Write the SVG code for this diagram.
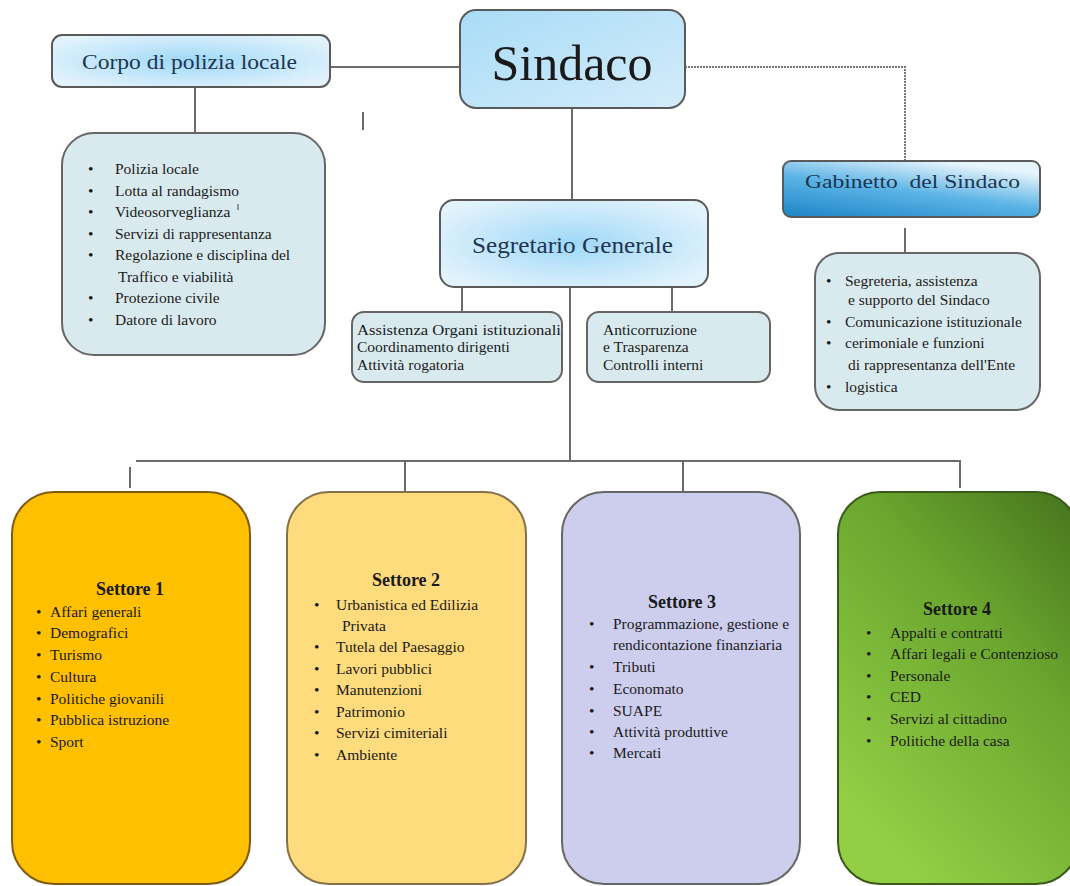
<svg xmlns="http://www.w3.org/2000/svg" width="1070" height="886" viewBox="0 0 1070 886">
<defs>
<radialGradient id="gBlue" cx="50%" cy="50%" r="60%">
<stop offset="0" stop-color="#9fd8f8"/>
<stop offset="1" stop-color="#e3f3fc"/>
</radialGradient>
<linearGradient id="gSind" x1="0" y1="0" x2="1" y2="1">
<stop offset="0" stop-color="#a9dcf7"/>
<stop offset="1" stop-color="#d3ecfa"/>
</linearGradient>
<linearGradient id="gGab" x1="0" y1="1" x2="0.6" y2="0">
<stop offset="0" stop-color="#1c84c6"/>
<stop offset="0.55" stop-color="#5cb4e6"/>
<stop offset="1" stop-color="#e6f4fb"/>
</linearGradient>
<linearGradient id="gGreen" x1="1" y1="0" x2="0.35" y2="1">
<stop offset="0" stop-color="#45731d"/>
<stop offset="0.4" stop-color="#6aa52e"/>
<stop offset="1" stop-color="#92cf45"/>
</linearGradient>
<style>
.t{font-family:"Liberation Serif","Times New Roman",serif;fill:#1a1a1a}
.li{font-size:15.5px}
.hd{font-size:18px;font-weight:bold;text-anchor:middle}
.ttl{fill:#1d3550}
.ln{stroke:#6b6b6b;stroke-width:2;fill:none}
.box{stroke:#5a5a5a;stroke-width:2}
.list{fill:#d9eaee;stroke:#666;stroke-width:2}
</style>
</defs>
<rect width="1070" height="886" fill="#ffffff"/>

<g id="connectors">
<line class="ln" x1="330" y1="67" x2="460" y2="67"/>
<polyline points="685,67 905,67 905,160" fill="none" stroke="#777" stroke-width="2" stroke-dasharray="2,1"/>
<line class="ln" x1="195" y1="87" x2="195" y2="133"/>
<line class="ln" x1="363" y1="112" x2="363" y2="130"/>
<line class="ln" x1="572" y1="108" x2="572" y2="200"/>
<line class="ln" x1="462" y1="287" x2="462" y2="312"/>
<line class="ln" x1="672" y1="287" x2="672" y2="312"/>
<line class="ln" x1="570" y1="287" x2="570" y2="461"/>
<line class="ln" x1="905" y1="228" x2="905" y2="253"/>
<polyline class="ln" points="136,461 960,461 960,488"/>
<line class="ln" x1="130" y1="467" x2="130" y2="488"/>
<line class="ln" x1="405" y1="461" x2="405" y2="492"/>
<line class="ln" x1="683" y1="461" x2="683" y2="492"/>
</g>

<g id="sindaco">
<rect class="box" x="460" y="10" width="225" height="98" rx="16" fill="url(#gSind)"/>
<text class="t" x="572" y="80" font-size="50" text-anchor="middle" fill="#222">Sindaco</text>
</g>

<g id="corpo-polizia">
<rect class="box" x="52" y="35" width="278" height="52" rx="10" fill="url(#gBlue)"/>
<text class="t ttl" x="82" y="69" font-size="20" textLength="215" lengthAdjust="spacingAndGlyphs">Corpo di polizia locale</text>
</g>

<g id="polizia-funzioni">
<rect class="list" x="62" y="133" width="263" height="222" rx="32"/>
<g class="t li">
<text x="88" y="174">•</text><text x="115" y="174">Polizia locale</text>
<text x="88" y="196">•</text><text x="115" y="196">Lotta al randagismo</text>
<text x="88" y="217">•</text><text x="115" y="217">Videosorveglianza</text>
<text x="88" y="239">•</text><text x="115" y="239">Servizi di rappresentanza</text>
<text x="88" y="260">•</text><text x="115" y="260">Regolazione e disciplina del</text>
<text x="118" y="282">Traffico e viabilità</text>
<text x="88" y="303">•</text><text x="115" y="303">Protezione civile</text>
<text x="88" y="325">•</text><text x="115" y="325">Datore di lavoro</text>
</g>
<line x1="238" y1="204" x2="238" y2="210" stroke="#444" stroke-width="1"/>
</g>

<g id="segretario">
<rect class="box" x="440" y="200" width="268" height="87" rx="14" fill="url(#gBlue)"/>
<text class="t ttl" x="472" y="253" font-size="23" textLength="201" lengthAdjust="spacingAndGlyphs">Segretario Generale</text>
</g>

<g id="segretario-assistenza">
<rect class="list" x="352" y="312" width="210" height="70" rx="12"/>
<g class="t li">
<text x="357" y="335" textLength="204" lengthAdjust="spacingAndGlyphs">Assistenza Organi istituzionali</text>
<text x="357" y="352">Coordinamento dirigenti</text>
<text x="357" y="370">Attività rogatoria</text>
</g>
</g>

<g id="segretario-anticorruzione">
<rect class="list" x="587" y="312" width="183" height="70" rx="12"/>
<g class="t li">
<text x="603" y="335">Anticorruzione</text>
<text x="603" y="352">e Trasparenza</text>
<text x="603" y="370">Controlli interni</text>
</g>
</g>

<g id="gabinetto">
<rect class="box" x="783" y="161" width="257" height="56" rx="8" fill="url(#gGab)"/>
<text class="t ttl" x="805" y="188" font-size="19" textLength="215" lengthAdjust="spacingAndGlyphs" xml:space="preserve">Gabinetto  del Sindaco</text>
</g>

<g id="gabinetto-funzioni">
<rect class="list" x="815" y="253" width="225" height="157" rx="24"/>
<g class="t li">
<text x="826" y="286">•</text><text x="845" y="286">Segreteria, assistenza</text>
<text x="848" y="305">e supporto del Sindaco</text>
<text x="826" y="327">•</text><text x="845" y="327">Comunicazione istituzionale</text>
<text x="826" y="348">•</text><text x="845" y="348">cerimoniale e funzioni</text>
<text x="848" y="370">di rappresentanza dell'Ente</text>
<text x="826" y="392">•</text><text x="845" y="392">logistica</text>
</g>
</g>

<g id="settore1">
<rect x="12" y="492" width="238" height="392" rx="42" fill="#ffc000" stroke="#7d5c12" stroke-width="2"/>
<text class="t hd" x="130" y="595">Settore 1</text>
<g class="t li">
<text x="36" y="617">•</text><text x="50" y="617">Affari generali</text>
<text x="36" y="638">•</text><text x="50" y="638">Demografici</text>
<text x="36" y="660">•</text><text x="50" y="660">Turismo</text>
<text x="36" y="682">•</text><text x="50" y="682">Cultura</text>
<text x="36" y="704">•</text><text x="50" y="704">Politiche giovanili</text>
<text x="36" y="725">•</text><text x="50" y="725">Pubblica istruzione</text>
<text x="36" y="747">•</text><text x="50" y="747">Sport</text>
</g>
</g>

<g id="settore2">
<rect x="287" y="492" width="239" height="392" rx="42" fill="#fedb7c" stroke="#85704a" stroke-width="2"/>
<text class="t hd" x="406" y="586">Settore 2</text>
<g class="t li">
<text x="314" y="610">•</text><text x="336" y="610">Urbanistica ed Edilizia</text>
<text x="342" y="631">Privata</text>
<text x="314" y="652">•</text><text x="336" y="652">Tutela del Paesaggio</text>
<text x="314" y="674">•</text><text x="336" y="674">Lavori pubblici</text>
<text x="314" y="695">•</text><text x="336" y="695">Manutenzioni</text>
<text x="314" y="717">•</text><text x="336" y="717">Patrimonio</text>
<text x="314" y="738">•</text><text x="336" y="738">Servizi cimiteriali</text>
<text x="314" y="760">•</text><text x="336" y="760">Ambiente</text>
</g>
</g>

<g id="settore3">
<rect x="562" y="492" width="238" height="392" rx="42" fill="#cdcdee" stroke="#666" stroke-width="2"/>
<text class="t hd" x="682" y="608">Settore 3</text>
<g class="t li">
<text x="589" y="629">•</text><text x="613" y="629">Programmazione, gestione e</text>
<text x="613" y="650">rendicontazione finanziaria</text>
<text x="589" y="672">•</text><text x="613" y="672">Tributi</text>
<text x="589" y="694">•</text><text x="613" y="694">Economato</text>
<text x="589" y="716">•</text><text x="613" y="716">SUAPE</text>
<text x="589" y="737">•</text><text x="613" y="737">Attività produttive</text>
<text x="589" y="758">•</text><text x="613" y="758">Mercati</text>
</g>
</g>

<g id="settore4">
<rect x="838" y="492" width="240" height="392" rx="42" fill="url(#gGreen)" stroke="#3a5a1c" stroke-width="2"/>
<text class="t hd" x="957" y="615">Settore 4</text>
<g class="t li">
<text x="866" y="638">•</text><text x="890" y="638">Appalti e contratti</text>
<text x="866" y="659">•</text><text x="890" y="659">Affari legali e Contenzioso</text>
<text x="866" y="681">•</text><text x="890" y="681">Personale</text>
<text x="866" y="702">•</text><text x="890" y="702">CED</text>
<text x="866" y="724">•</text><text x="890" y="724">Servizi al cittadino</text>
<text x="866" y="746">•</text><text x="890" y="746">Politiche della casa</text>
</g>
</g>
</svg>
